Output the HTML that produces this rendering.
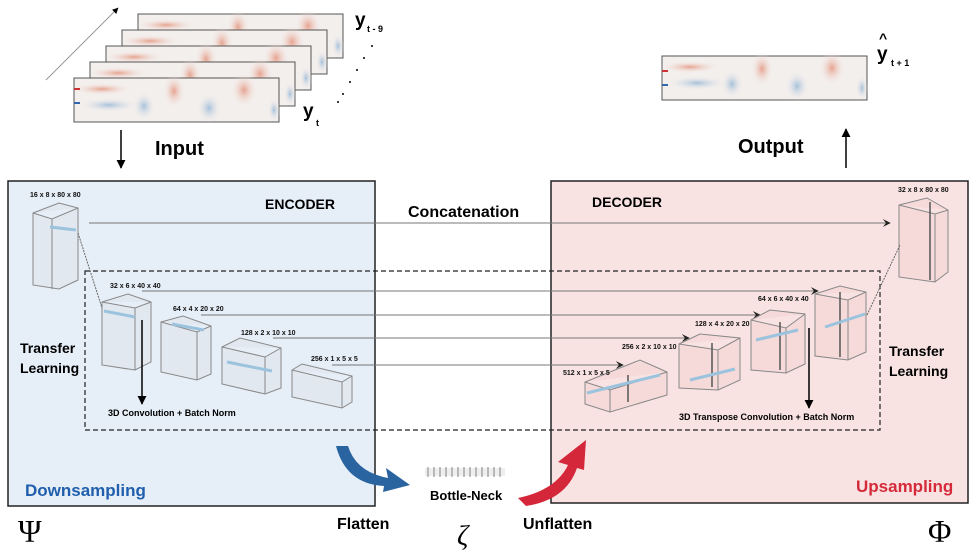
<!DOCTYPE html>
<html><head><meta charset="utf-8"><style>
body{margin:0;background:#fff}
svg{display:block;font-family:"Liberation Sans",sans-serif}
</style></head><body>
<svg width="980" height="555" viewBox="0 0 980 555" xmlns="http://www.w3.org/2000/svg">
<defs>
<radialGradient id="r"><stop offset="0" stop-color="#e59a85" stop-opacity=".9"/><stop offset="1" stop-color="#f3ecea" stop-opacity="0"/></radialGradient>
<radialGradient id="b"><stop offset="0" stop-color="#9dbcd8" stop-opacity=".9"/><stop offset="1" stop-color="#f3ecea" stop-opacity="0"/></radialGradient>
<marker id="ah" viewBox="0 0 10 10" refX="9" refY="5" markerWidth="8" markerHeight="8" orient="auto"><path d="M0,0 L10,5 L0,10 L4,5z" fill="#222"/></marker>
<marker id="ak" viewBox="0 0 10 10" refX="9" refY="5" markerWidth="6" markerHeight="6" orient="auto"><path d="M0,0 L10,5 L0,10z" fill="#000"/></marker>
<g id="fr">
<rect x="0" y="0" width="205" height="44" fill="#f3efed" stroke="#555" stroke-width="1"/>
<ellipse cx="28" cy="11" rx="30" ry="6" fill="url(#r)"/>
<ellipse cx="100" cy="13" rx="11" ry="17" fill="url(#r)"/>
<ellipse cx="170" cy="12" rx="13" ry="17" fill="url(#r)"/>
<ellipse cx="135" cy="30" rx="12" ry="15" fill="url(#b)"/>
<ellipse cx="35" cy="27" rx="30" ry="7" fill="url(#b)"/>
<ellipse cx="70" cy="28" rx="11" ry="14" fill="url(#b)"/>
<ellipse cx="200" cy="32" rx="6" ry="12" fill="url(#b)"/>
</g>
</defs>
<!-- input stack -->
<line x1="46" y1="80" x2="118" y2="8" stroke="#999" stroke-width="1" marker-end="url(#ak)"/>
<use href="#fr" x="138" y="14"/><use href="#fr" x="122" y="30"/><use href="#fr" x="106" y="46"/><use href="#fr" x="90" y="62"/><use href="#fr" x="74" y="78"/>
<rect x="74" y="88" width="6" height="2" fill="#c33"/><rect x="74" y="102" width="6" height="2" fill="#36a"/>
<text x="355" y="26" font-size="19" font-weight="bold">y</text><text x="367" y="32" font-size="9" font-weight="bold">t - 9</text>
<text x="303" y="117" font-size="19" font-weight="bold">y</text><text x="316" y="126" font-size="9" font-weight="bold">t</text>
<g fill="#000"><circle cx="372" cy="46" r="1"/><circle cx="364" cy="58" r="1"/><circle cx="357" cy="70" r="1"/><circle cx="350" cy="82" r="1"/><circle cx="343" cy="94" r="1"/><circle cx="338" cy="102" r="1"/></g>
<line x1="121" y1="130" x2="121" y2="168" stroke="#000" stroke-width="1.5" marker-end="url(#ak)"/>
<text x="155" y="155" font-size="20" font-weight="bold">Input</text>
<!-- output -->
<use href="#fr" x="662" y="56"/>
<rect x="662" y="70" width="6" height="2" fill="#c33"/><rect x="662" y="84" width="6" height="2" fill="#36a"/>
<text x="877" y="60" font-size="19" font-weight="bold">y</text><text x="879" y="43" font-size="14" font-weight="bold">^</text>
<text x="891" y="66" font-size="9" font-weight="bold">t + 1</text>
<text x="738" y="153" font-size="20" font-weight="bold">Output</text>
<line x1="846" y1="168" x2="846" y2="129" stroke="#000" stroke-width="1.5" marker-end="url(#ak)"/>
<!-- boxes -->
<rect x="8" y="181" width="367" height="325" fill="#e6eef7" stroke="#222" stroke-width="1.5"/>
<rect x="551" y="181" width="417" height="322" fill="#f8e3e2" stroke="#222" stroke-width="1.5"/>
<rect x="85" y="271" width="795" height="159" fill="none" stroke="#222" stroke-width="1.2" stroke-dasharray="5,3"/>
<text x="265" y="209" font-size="14" font-weight="bold">ENCODER</text>
<text x="592" y="207" font-size="14" font-weight="bold">DECODER</text>
<text x="408" y="217" font-size="16" font-weight="bold">Concatenation</text>
<!-- skip lines -->
<g stroke="#777" stroke-width="1" fill="none" marker-end="url(#ah)">
<line x1="89" y1="223" x2="890" y2="223"/>
<line x1="142" y1="291" x2="818" y2="291"/>
<line x1="201" y1="315" x2="760" y2="315"/>
<line x1="273" y1="338" x2="689" y2="338"/>
<line x1="332" y1="365" x2="623" y2="365"/>
</g>
<!-- cubes -->
<g fill="rgba(220,220,225,0.3)" stroke="#888" stroke-width="1">
<path d="M33,213 L59,203 L78,208 L78,280 L59,289 L33,285z M33,213 L52,219 L78,208 M52,219 L52,289"/>
<path d="M102,302 L128,294 L151,302 L151,362 L135,370 L102,365z M102,302 L135,308 L151,302 M135,308 L135,370"/>
<path d="M161,322 L183,316 L211,326 L211,374 L197,380 L161,372z M161,322 L197,332 L211,326 M197,332 L197,380"/>
<path d="M222,347 L240,338 L281,348 L281,388 L265,394 L222,384z M222,347 L265,357 L281,348 M265,357 L265,394"/>
<path d="M292,370 L302,364 L352,376 L352,402 L342,408 L292,397z M292,370 L342,382 L352,376 M342,382 L342,408"/>
</g>
<g fill="rgba(240,200,200,0.35)" stroke="#888" stroke-width="1">
<path d="M585,382 L640,360 L667,372 L667,395 L610,412 L585,404z M585,382 L610,390 L667,372 M610,390 L610,412"/>
<path d="M679,344 L700,334 L740,338 L740,380 L718,390 L679,388z M679,344 L718,350 L740,338 M718,350 L718,390"/>
<path d="M751,320 L770,310 L805,314 L805,364 L786,373 L751,370z M751,320 L786,328 L805,314 M786,328 L786,373"/>
<path d="M815,294 L840,286 L866,292 L866,352 L848,360 L815,356z M815,294 L848,300 L866,292 M848,300 L848,360"/>
<path d="M899,205 L927,198 L948,210 L948,272 L935,282 L899,277z M899,205 L935,214 L948,210 M935,214 L935,282"/>
</g>
<g stroke="#555" stroke-width="1.5"><line x1="628" y1="375" x2="628" y2="402"/><line x1="712" y1="343" x2="712" y2="387"/><line x1="780" y1="322" x2="780" y2="370"/><line x1="840" y1="292" x2="840" y2="357"/><line x1="930" y1="202" x2="930" y2="280"/></g>
<g stroke="#9cc3dd" stroke-width="3"><line x1="50" y1="227" x2="76" y2="230"/><line x1="104" y1="311" x2="135" y2="317"/><line x1="172" y1="324" x2="204" y2="330"/><line x1="227" y1="362" x2="272" y2="371"/><line x1="587" y1="393" x2="660" y2="375"/><line x1="690" y1="380" x2="735" y2="369"/><line x1="756" y1="340" x2="798" y2="330"/><line x1="825" y1="327" x2="865" y2="314"/></g>
<g stroke="#666" stroke-width="1" stroke-dasharray="2,1"><line x1="78" y1="233" x2="102" y2="308"/><line x1="867" y1="315" x2="900" y2="245"/></g>
<g font-size="7" font-weight="bold" fill="#111">
<text x="30" y="197">16 x 8 x 80 x 80</text><text x="110" y="288">32 x 6 x 40 x 40</text><text x="173" y="311">64 x 4 x 20 x 20</text><text x="241" y="335">128 x 2 x 10 x 10</text><text x="311" y="361">256 x 1 x 5 x 5</text>
<text x="898" y="192">32 x 8 x 80 x 80</text><text x="758" y="301">64 x 6 x 40 x 40</text><text x="695" y="326">128 x 4 x 20 x 20</text><text x="622" y="349">256 x 2 x 10 x 10</text><text x="563" y="375">512 x 1 x 5 x 5</text>
</g>
<line x1="142" y1="320" x2="142" y2="404" stroke="#000" stroke-width="1.5" marker-end="url(#ak)"/>
<line x1="809" y1="328" x2="809" y2="408" stroke="#000" stroke-width="1.5" marker-end="url(#ak)"/>
<text x="108" y="416" font-size="9" font-weight="bold">3D Convolution + Batch Norm</text>
<text x="679" y="420" font-size="9" font-weight="bold">3D Transpose Convolution + Batch Norm</text>
<text x="20" y="353" font-size="14" font-weight="bold">Transfer</text><text x="20" y="373" font-size="14" font-weight="bold">Learning</text>
<text x="889" y="356" font-size="14" font-weight="bold">Transfer</text><text x="889" y="376" font-size="14" font-weight="bold">Learning</text>
<text x="25" y="496" font-size="17" font-weight="bold" fill="#1f5fad">Downsampling</text>
<text x="856" y="492" font-size="17" font-weight="bold" fill="#d42a3a">Upsampling</text>
<!-- curved arrows -->
<path d="M336,446 L348,446 Q356,472 388,478 L386,468 L410,485 L383,492 L384,486 Q346,484 336,446z" fill="#2a64a0"/>
<path d="M518,498 Q556,490 568,465 L558,462 L586,440 L584,470 L577,468 Q566,500 526,506z" fill="#d4283a"/>
<rect x="425" y="468" width="80" height="8" fill="#eee"/>
<g stroke="#555" stroke-width="0.7"><line x1="428" y1="467" x2="428" y2="477"/><line x1="434" y1="467" x2="434" y2="477"/><line x1="440" y1="467" x2="440" y2="477"/><line x1="446" y1="467" x2="446" y2="477"/><line x1="452" y1="467" x2="452" y2="477"/><line x1="458" y1="467" x2="458" y2="477"/><line x1="464" y1="467" x2="464" y2="477"/><line x1="470" y1="467" x2="470" y2="477"/><line x1="476" y1="467" x2="476" y2="477"/><line x1="482" y1="467" x2="482" y2="477"/><line x1="488" y1="467" x2="488" y2="477"/><line x1="494" y1="467" x2="494" y2="477"/><line x1="500" y1="467" x2="500" y2="477"/></g>
<text x="430" y="500" font-size="13" font-weight="bold">Bottle-Neck</text>
<text x="337" y="529" font-size="16" font-weight="bold">Flatten</text>
<text x="523" y="529" font-size="16" font-weight="bold">Unflatten</text>
<text x="18" y="542" font-size="32" font-family="Liberation Serif,serif">Ψ</text>
<text x="457" y="545" font-size="28" font-family="Liberation Serif,serif" font-style="italic">ζ</text>
<text x="928" y="542" font-size="32" font-family="Liberation Serif,serif">Φ</text>
</svg>
</body></html>
